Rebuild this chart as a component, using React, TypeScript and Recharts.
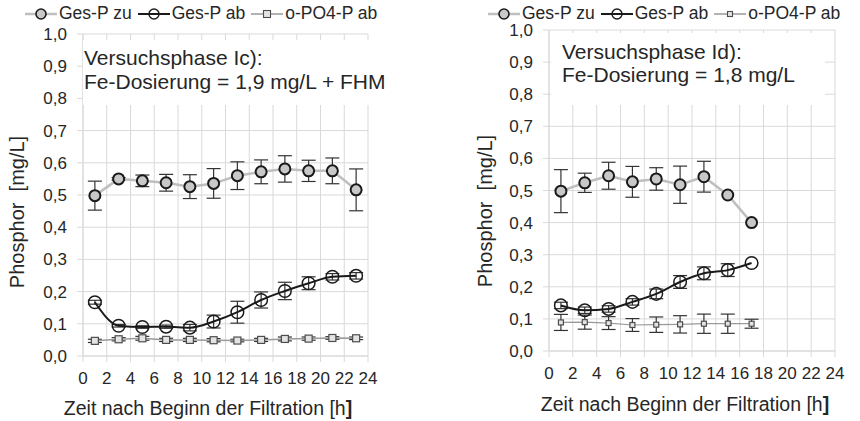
import React from "react";
import {
  CartesianGrid,
  ErrorBar,
  Line,
  LineChart,
  XAxis,
  YAxis
} from "recharts";

// Versuchsphase Ic (links)
const leftHours = [1, 3, 5, 7, 9, 11, 13, 15, 17, 19, 21, 23];
const leftZu = [0.498, 0.55, 0.544, 0.538, 0.526, 0.536, 0.56, 0.572, 0.581, 0.575, 0.575, 0.516];
const leftZuErr = [0.045, 0.004, 0.018, 0.026, 0.037, 0.046, 0.043, 0.037, 0.041, 0.033, 0.04, 0.065];
const leftAb = [0.167, 0.094, 0.09, 0.091, 0.088, 0.107, 0.136, 0.174, 0.202, 0.226, 0.246, 0.249];
const leftAbErr = [0.006, 0.004, 0.004, 0.005, 0.01, 0.02, 0.034, 0.025, 0.027, 0.02, 0.01, 0.01];
const leftPo4 = [0.047, 0.052, 0.055, 0.05, 0.05, 0.049, 0.048, 0.05, 0.053, 0.054, 0.056, 0.055];
const leftPo4Err = [0.005, 0.005, 0.006, 0.005, 0.005, 0.005, 0.004, 0.005, 0.006, 0.005, 0.004, 0.004];

// Versuchsphase Id (rechts)
const rightHours = [1, 3, 5, 7, 9, 11, 13, 15, 17];
const rightZu = [0.498, 0.524, 0.546, 0.527, 0.536, 0.518, 0.543, 0.486, 0.4];
const rightZuErr = [0.067, 0.03, 0.042, 0.048, 0.035, 0.058, 0.048, 0, 0];
const rightAb = [0.142, 0.127, 0.131, 0.153, 0.178, 0.215, 0.242, 0.252, 0.274];
const rightAbErr = [0.01, 0.01, 0.01, 0.01, 0.015, 0.02, 0.02, 0.02, 0];
const rightPo4 = [0.089, 0.09, 0.087, 0.081, 0.082, 0.083, 0.085, 0.085, 0.085];
const rightPo4Err = [0.025, 0.022, 0.02, 0.02, 0.024, 0.027, 0.03, 0.03, 0.014];

const xTicks = [0, 2, 4, 6, 8, 10, 12, 14, 16, 18, 20, 22, 24];
const yTicks = [0, 0.1, 0.2, 0.3, 0.4, 0.5, 0.6, 0.7, 0.8, 0.9, 1.0];
const legendNames = ["Ges-P zu", "Ges-P ab", "o-PO4-P ab"];

const FONT = '"Liberation Sans", Arial, sans-serif';
const GRID = "#d9d9d9";
const TEXT = "#262626";

function buildRows(hours: number[], zu: number[], zuErr: number[], ab: number[], abErr: number[], po4: number[], po4Err: number[]) {
  return hours.map((h, i) => ({
    h,
    zu: zu[i],
    zuErr: zuErr[i],
    ab: ab[i],
    abErr: abErr[i],
    po4: po4[i],
    po4Err: po4Err[i]
  }));
}

const fmt = (v: number) => v.toFixed(1).replace(".", ",");

function squareDot(size: number) {
  return (props: any) => {
    const { cx, cy, index } = props;
    if (cx == null || cy == null) return <g key={index} />;
    return (
      <rect
        key={index}
        x={cx - size / 2}
        y={cy - size / 2}
        width={size}
        height={size}
        fill="#e3e3e3"
        stroke="#4d4d4d"
        strokeWidth={1.2}
      />
    );
  };
}

function LegendRow({ left, sq }: { left: number; sq: number }) {
  const icons = [
    <svg width={32} height={14} key="a">
      <line x1={0} x2={32} y1={7} y2={7} stroke="#bfbfbf" strokeWidth={2.5} />
      <circle cx={16} cy={7} r={5} fill="#c8c8c8" stroke="#1a1a1a" strokeWidth={1.6} />
    </svg>,
    <svg width={32} height={14} key="b">
      <line x1={0} x2={32} y1={7} y2={7} stroke="#1a1a1a" strokeWidth={2} />
      <circle cx={16} cy={7} r={5} fill="none" stroke="#1a1a1a" strokeWidth={1.4} />
    </svg>,
    <svg width={32} height={14} key="c">
      <line x1={0} x2={32} y1={7} y2={7} stroke="#999" strokeWidth={1.5} />
      <rect x={16 - sq / 2} y={7 - sq / 2} width={sq} height={sq} fill="#e3e3e3" stroke="#4d4d4d" strokeWidth={1.1} />
    </svg>
  ];
  return (
    <div
      style={{
        position: "absolute",
        left,
        top: 3,
        display: "flex",
        alignItems: "center",
        fontFamily: FONT,
        fontSize: 17.5,
        color: TEXT,
        whiteSpace: "nowrap"
      }}
    >
      {legendNames.map((name, i) => (
        <span key={name} style={{ display: "flex", alignItems: "center", marginRight: 6 }}>
          {icons[i]}
          <span style={{ marginLeft: 2 }}>{name}</span>
        </span>
      ))}
    </div>
  );
}

type PanelProps = {
  x: number;
  rows: ReturnType<typeof buildRows>;
  margin: { top: number; right: number; bottom: number; left: number };
  sq: number;
  po4Width: number;
};

function Panel({ x, rows, margin, sq, po4Width }: PanelProps) {
  return (
    <div style={{ position: "absolute", left: x, top: 0 }}>
      <LineChart width={430} height={421} data={rows} margin={margin}>
        <CartesianGrid stroke={GRID} strokeWidth={1} />
        <XAxis
          dataKey="h"
          type="number"
          domain={[0, 24]}
          ticks={xTicks}
          interval={0}
          height={30}
          tickSize={6}
          tickMargin={10}
          stroke={GRID}
          tick={{ fill: TEXT, fontSize: 17, fontFamily: FONT }}
        />
        <YAxis
          type="number"
          domain={[0, 1]}
          ticks={yTicks}
          interval={0}
          width={60}
          tickSize={6}
          tickMargin={10}
          stroke={GRID}
          tickFormatter={fmt}
          tick={{ fill: TEXT, fontSize: 17, fontFamily: FONT }}
        />
        <Line
          dataKey="po4"
          type="linear"
          stroke="#9a9a9a"
          strokeWidth={po4Width}
          dot={squareDot(sq)}
          activeDot={false}
          isAnimationActive={false}
        >
          <ErrorBar dataKey="po4Err" width={7} stroke="#333" strokeWidth={1.2} direction="y" />
        </Line>
        <Line
          dataKey="ab"
          type="monotone"
          stroke="#1a1a1a"
          strokeWidth={2}
          dot={{ r: 6.3, fill: "none", stroke: "#1a1a1a", strokeWidth: 1.5 }}
          activeDot={false}
          isAnimationActive={false}
        >
          <ErrorBar dataKey="abErr" width={7} stroke="#333" strokeWidth={1.2} direction="y" />
        </Line>
        <Line
          dataKey="zu"
          type="linear"
          stroke="#bfbfbf"
          strokeWidth={2.5}
          dot={{ r: 5.5, fill: "#c8c8c8", stroke: "#1a1a1a", strokeWidth: 2 }}
          activeDot={false}
          isAnimationActive={false}
        >
          <ErrorBar dataKey="zuErr" width={7} stroke="#333" strokeWidth={1.2} direction="y" />
        </Line>
      </LineChart>
    </div>
  );
}

function Note({ left, top, width, height, padTop, padLeft, lines, lineHeight }: any) {
  return (
    <div
      style={{
        position: "absolute",
        left,
        top,
        width,
        height,
        background: "#fff",
        boxSizing: "border-box",
        paddingTop: padTop,
        paddingLeft: padLeft,
        fontFamily: FONT,
        fontSize: 21,
        lineHeight: `${lineHeight}px`,
        color: TEXT,
        whiteSpace: "nowrap"
      }}
    >
      {lines.map((l: string) => (
        <div key={l}>{l}</div>
      ))}
    </div>
  );
}

function YTitle({ cx, cy }: { cx: number; cy: number }) {
  return (
    <div
      style={{
        position: "absolute",
        left: cx,
        top: cy,
        transform: "translate(-50%, -50%) rotate(-90deg)",
        fontFamily: FONT,
        fontSize: 20,
        color: TEXT,
        whiteSpace: "pre"
      }}
    >
      {"Phosphor  [mg/L]"}
    </div>
  );
}

function XTitle({ cx, cy }: { cx: number; cy: number }) {
  return (
    <div
      style={{
        position: "absolute",
        left: cx,
        top: cy,
        transform: "translate(-50%, -50%)",
        fontFamily: FONT,
        fontSize: 19.5,
        color: TEXT,
        whiteSpace: "nowrap"
      }}
    >
      Zeit nach Beginn der Filtration [h<b>]</b>
    </div>
  );
}

export default function App() {
  const leftRows = buildRows(leftHours, leftZu, leftZuErr, leftAb, leftAbErr, leftPo4, leftPo4Err);
  const rightRows = buildRows(rightHours, rightZu, rightZuErr, rightAb, rightAbErr, rightPo4, rightPo4Err);

  return (
    <div style={{ position: "absolute", left: 0, top: 0, width: 860, height: 421, background: "#fff", overflow: "hidden" }}>
      <Panel x={0} rows={leftRows} margin={{ top: 34, right: 62, bottom: 35, left: 23 }} sq={7} po4Width={1.5} />
      <Panel x={430} rows={rightRows} margin={{ top: 30, right: 25, bottom: 40, left: 59 }} sq={5} po4Width={1.2} />

      <Note
        left={83}
        top={40}
        width={286}
        height={65}
        padTop={6}
        padLeft={1}
        lineHeight={24}
        lines={["Versuchsphase Ic):", "Fe-Dosierung = 1,9 mg/L + FHM"]}
      />
      <Note
        left={551}
        top={33}
        width={274}
        height={72}
        padTop={7}
        padLeft={11}
        lineHeight={23}
        lines={["Versuchsphase Id):", "Fe-Dosierung = 1,8 mg/L"]}
      />

      <LegendRow left={25} sq={7} />
      <LegendRow left={488} sq={5} />

      <YTitle cx={17} cy={212} />
      <YTitle cx={485} cy={211} />
      <XTitle cx={208} cy={408} />
      <XTitle cx={685} cy={404} />
    </div>
  );
}
